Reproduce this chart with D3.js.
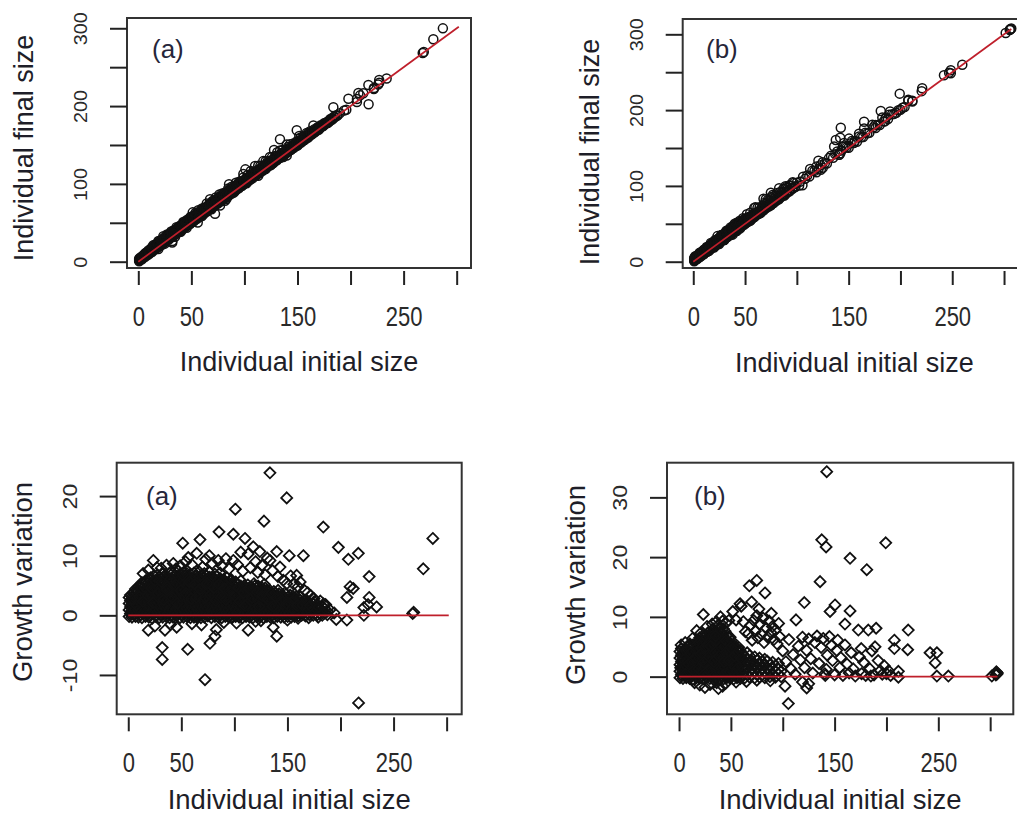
<!DOCTYPE html>
<html>
<head>
<meta charset="utf-8">
<script src="https://cdn.jsdelivr.net/npm/d3@7"></script>
<style>
  body { margin: 0; background: #fff; }
  svg { display: block; }
</style>
</head>
<body>
<svg id="fig" width="1017" height="816"></svg>
<script>
// ---------------------------------------------------------------------------
// Axis ticks and labels
// ---------------------------------------------------------------------------
const initialTicks = [0, 50, 100, 150, 200, 250, 300];
const initialTickLabels = [0, 50, 150, 250];
const finalTicks = [0, 50, 100, 150, 200, 250, 300];
const finalTickLabels = [0, 100, 200, 300];
const growthTicksA = [-10, 0, 10, 20];
const growthTicksB = [0, 10, 20, 30];
const panelTags = ["(a)", "(b)"];

// Range of initial sizes covered by the fitted reference line
const fitRangeA = [0, 302];
const fitRangeB = [0, 307];

// ---------------------------------------------------------------------------
// Site (a): dense core, listed as [initial size, [growth values]]
// ---------------------------------------------------------------------------
const coreA = [
  [0.8,[-0.2,0.9,2.0,3.0]],[2.1,[0.3,1.4,2.5,3.4]],[3.5,[-0.3,0.8,1.9,3.1]],[5.2,[0.2,1.3,2.6,3.8]],
  [6.8,[-0.2,1.0,2.2,3.5,4.4]],[8.4,[0.4,1.6,2.9,4.1]],[9.6,[-0.3,0.9,2.3,3.6,4.8]],
  [11.3,[0.1,1.2,2.4,3.7,4.9]],[12.9,[-0.4,0.7,1.9,3.1,4.4,5.5]],[14.6,[0.3,1.5,2.7,4.0,5.2]],
  [16.2,[-0.2,0.9,2.1,3.4,4.6,5.8]],[17.9,[0.4,1.6,2.9,4.2,5.4]],[19.4,[-0.3,1.1,2.3,3.6,4.8,6.1]],
  [21.0,[0.2,1.4,2.6,3.9,5.1,6.3]],[22.7,[-0.5,0.8,2.0,3.2,4.5,5.7]],[24.3,[0.3,1.5,2.8,4.0,5.3,6.6]],
  [26.0,[-0.2,1.0,2.2,3.5,4.7,5.9]],[27.6,[0.5,1.7,3.0,4.2,5.5,6.8]],[29.1,[-0.4,0.9,2.1,3.3,4.6,5.8]],
  [30.8,[0.2,1.3,2.5,3.8,5.0,6.2]],[32.4,[-0.3,0.9,2.0,3.2,4.4,5.7,6.9]],[34.1,[0.4,1.6,2.8,4.1,5.3,6.5]],
  [35.7,[-0.2,1.1,2.3,3.5,4.8,6.0]],[37.3,[0.3,1.5,2.7,3.9,5.1,6.4]],[38.9,[-0.4,0.8,2.1,3.3,4.6,5.8,7.0]],
  [40.6,[0.1,1.3,2.5,3.7,5.0,6.2]],[42.2,[-0.3,0.9,2.1,3.4,4.6,5.9,7.1]],[43.8,[0.4,1.7,2.9,4.1,5.4,6.6]],
  [45.5,[-0.1,1.1,2.3,3.6,4.8,6.0]],[47.1,[0.3,1.5,2.7,4.0,5.2,6.5,7.4]],[48.7,[-0.4,0.8,2.0,3.2,4.5,5.7,6.9]],
  [50.4,[0.2,1.4,2.6,3.9,5.1,6.3]],[52.0,[-0.3,1.0,2.2,3.4,4.7,5.9,7.2]],[53.7,[0.5,1.7,2.9,4.2,5.4,6.6]],
  [55.3,[-0.2,1.1,2.3,3.5,4.8,6.0,7.0]],[56.9,[0.3,1.5,2.8,4.0,5.2,6.4]],[58.6,[-0.4,0.9,2.1,3.3,4.6,5.8,6.9]],
  [60.2,[0.1,1.3,2.5,3.8,5.0,6.2]],[61.9,[-0.3,0.9,2.2,3.4,4.6,5.9,7.1]],[63.5,[0.4,1.6,2.8,4.1,5.3,6.5]],
  [65.1,[-0.2,1.0,2.3,3.5,4.7,6.0]],[66.8,[0.2,1.5,2.7,3.9,5.2,6.4,7.3]],[68.4,[-0.4,0.8,2.0,3.3,4.5,5.7]],
  [70.1,[0.3,1.4,2.6,3.8,5.1,6.3]],[71.7,[-0.3,1.0,2.2,3.4,4.7,5.9,7.0]],[73.3,[0.4,1.7,2.9,4.1,5.3,6.6]],
  [75.0,[-0.1,1.1,2.3,3.6,4.8,6.0]],[76.6,[0.2,1.5,2.7,3.9,5.2,6.4,7.2]],[78.3,[-0.4,0.9,2.1,3.3,4.5,5.8]],
  [79.9,[0.3,1.5,2.7,3.9,5.2,6.3]],[81.6,[-0.2,1.0,2.2,3.5,4.7,5.9,6.9]],[83.2,[0.4,1.6,2.8,4.0,5.3,6.5]],
  [84.8,[-0.3,0.9,2.1,3.4,4.6,5.8]],[86.5,[0.2,1.4,2.6,3.9,5.1,6.2,7.1]],[88.1,[-0.4,0.8,2.0,3.3,4.5,5.7]],
  [89.8,[0.3,1.5,2.7,3.9,5.1,6.0]],[91.4,[-0.2,1.0,2.2,3.4,4.6,5.6]],[93.0,[0.4,1.6,2.8,4.1,5.2,6.3]],
  [94.7,[-0.3,0.9,2.1,3.3,4.5,5.5]],[96.3,[0.2,1.4,2.6,3.8,5.0,5.9]],[97.9,[-0.4,0.8,2.0,3.2,4.4,5.4]],
  [99.6,[0.3,1.5,2.7,3.9,5.0]],[101.2,[-0.2,1.0,2.2,3.4,4.6,5.6]],[102.8,[0.4,1.6,2.8,4.0,5.1]],
  [104.5,[-0.3,0.9,2.1,3.3,4.5]],[106.1,[0.2,1.4,2.6,3.8,4.9,5.8]],[107.7,[-0.4,0.8,2.0,3.2,4.3]],
  [109.4,[0.3,1.5,2.7,3.9,5.0]],[111.0,[-0.2,1.0,2.2,3.4,4.5]],[112.6,[0.4,1.6,2.8,4.0,5.1]],
  [114.3,[-0.3,0.9,2.1,3.3,4.4]],[115.9,[0.2,1.4,2.6,3.8,4.8]],[117.5,[-0.4,0.8,2.0,3.2,4.3]],
  [119.2,[0.3,1.5,2.7,3.9,4.9]],[120.8,[-0.2,1.0,2.2,3.4,4.5]],[122.4,[0.4,1.6,2.8,3.9,4.9]],
  [124.1,[-0.3,0.9,2.1,3.3,4.4]],[125.7,[0.2,1.4,2.6,3.8,4.7]],[127.3,[-0.4,0.8,2.0,3.2,4.3]],
  [129.0,[0.3,1.5,2.7,3.8,4.6]],[130.6,[-0.2,1.0,2.2,3.3,4.2]],[132.2,[0.4,1.6,2.7,3.8]],
  [133.9,[-0.3,0.9,2.1,3.2,4.1]],[135.5,[0.2,1.4,2.5,3.6]],[137.1,[-0.4,0.8,2.0,3.1,4.0]],
  [138.8,[0.3,1.5,2.6,3.7]],[140.4,[-0.2,1.0,2.1,3.2]],[142.0,[0.4,1.5,2.6,3.6]],
  [143.7,[-0.3,0.9,2.0,3.0]],[145.3,[0.2,1.3,2.4,3.4]],[146.9,[-0.3,0.8,1.9,2.9]],
  [148.6,[0.3,1.4,2.5,3.5]],[150.2,[-0.2,0.9,2.0,3.0]],[151.8,[0.4,1.5,2.5]],
  [153.5,[-0.3,0.8,1.9,2.9]],[155.1,[0.2,1.3,2.3,3.2]],[156.7,[-0.2,0.9,1.9]],
  [158.4,[0.3,1.4,2.4,3.1]],[160.0,[-0.1,1.0,2.0]],[161.7,[0.4,1.5,2.6]],
  [163.4,[0.0,1.1,2.1]],[165.2,[0.3,1.4,2.4]],[166.9,[-0.1,0.9,1.9]],
  [168.7,[0.4,1.3,2.2]],[170.6,[0.1,1.1,2.0]],[172.5,[0.5,1.5]],
  [174.3,[0.0,1.0,1.9]],[176.4,[0.4,1.3]],[178.2,[0.1,0.9,1.7]],
  [180.5,[0.3,1.2]],[182.8,[0.0,0.8,1.5]],[185.1,[0.4,1.1]],[187.6,[0.1,0.7]]
];

// Site (a): individual points around and outside the core, [initial, growth]
const scatterA = [
  [14,7.0],[19,7.6],[23.6,9.2],[27,8.0],[31,7.9],[36,8.4],[42.4,8.7],[45,7.8],[49,8.3],[51.3,12.1],
  [54,9.0],[56.5,9.7],[60,8.5],[64.5,10.4],[67.6,12.7],[70,8.1],[73,9.4],[76.4,10.0],[79,8.7],[84.8,9.2],
  [85.5,14.0],[88,8.3],[92,9.5],[95,7.8],[99,9.2],[99,13.6],[103,8.5],[106,10.6],[108,7.4],[110,12.9],
  [113,10.3],[115,8.0],[117.8,11.5],[120,9.0],[122,7.2],[124,10.7],[126,8.4],[129,6.8],[131,9.6],[133.6,9.2],
  [136,7.5],[139.9,10.7],[141,6.5],[143,8.1],[146,5.9],[149.3,5.3],[151.7,10.0],[153,6.6],[156,5.2],[158.7,6.7],
  [160,4.8],[162,5.6],[165,10.0],[166,4.2],[169,3.8],[172,3.3],[175,2.8],[181,2.4],[186,1.8],[190,0.9],
  [194,0.4],[179,-0.3],[196,-0.7],[206,-0.8],[206,3.0],[207.4,9.4],[209,4.8],[212,4.5],[216.8,10.4],[222,1.3],
  [222,0.0],[227,6.5],[227,3.0],[234,1.4],[226,1.8],[268,0.3],[269,0.5],[278,7.8],[287,12.9],[133.5,23.9],
  [149.3,19.7],[100.9,17.8],[127.9,15.8],[183.8,14.8],[198,11.4],[217,-14.7],[72.3,-10.8],[32,-7.4],[32,-5.4],[56,-5.7],
  [77,-4.7],[81.7,-3.5],[139.9,-3.5],[113,-2.5],[136.6,-2.0],[18.9,-2.5],[34.6,-2.5],[45.6,-2.0],[102,-1.3],[69,-1.6],
  [83,-2.4],[25,-1.8],[40,-1.5],[60,-1.4],[90,-1.2],[120,-1.0],[150,-0.8],[160,-0.5],[170,-0.4],[125,-0.9],
  [4.4,2.6],[7.6,1.7],[10.4,3.1],[13.8,2.3],[15.3,4.8],[18.6,3.3],[21.8,4.6],[23.5,2.1],[25.1,5.8],[28.3,3.7],
  [31.6,5.6],[33.2,2.6],[36.5,4.3],[39.8,6.1],[41.3,3.0],[44.6,5.1],[46.3,2.0],[49.5,4.2],[51.2,6.8],[54.5,3.7],
  [57.7,5.6],[59.4,2.8],[62.7,5.2],[64.3,3.0],[67.6,4.4],[69.3,6.8],[72.5,3.0],[74.2,5.4],[77.4,3.4],[80.7,4.6],
  [82.4,2.5],[85.7,5.2],[87.3,3.0],[90.6,4.5],[92.2,2.6],[95.5,4.0],[97.1,6.0],[100.4,3.3],[103.7,4.6],[105.3,2.4],
  [108.6,3.8],[110.2,1.6],[113.5,4.5],[116.7,3.0],[118.4,5.3],[121.6,3.9],[123.3,1.5],[126.5,3.3],[128.2,5.2],[131.4,2.7],
  [134.7,3.6],[136.3,1.5],[139.6,3.0],[141.2,4.2],[144.5,2.5],[147.7,3.8],[149.4,1.9],[152.6,3.4],[154.3,1.1],[157.5,2.8],
  [159.2,1.6],[162.5,3.1],[164.3,1.7],[167.8,2.6],[171.5,1.6],[175.3,2.3],[179.4,1.4],[184.0,1.9]
];

// ---------------------------------------------------------------------------
// Site (b): dense core, listed as [initial size, [growth values]]
// ---------------------------------------------------------------------------
const coreB = [
  [0.9,[-0.2,0.9,2.0,3.1,4.2]],[2.3,[0.3,1.4,2.5,3.6,4.7]],[3.8,[-0.3,0.8,1.9,3.0,4.1]],
  [5.4,[0.2,1.3,2.4,3.5,4.6]],[7.0,[-0.2,0.9,2.0,3.2,4.3]],[8.6,[0.4,1.5,2.6,3.8,4.9]],
  [10.2,[-0.3,0.8,1.9,3.0,4.1,5.2]],[11.8,[0.2,1.4,2.5,3.6,4.7]],[13.4,[-0.4,0.7,1.8,3.0,4.1,5.3]],
  [15.0,[0.3,1.4,2.5,3.7,4.8]],[16.7,[-0.2,0.9,2.0,3.2,4.3,5.5]],[18.3,[0.4,1.5,2.6,3.8,4.9,6.0]],
  [19.9,[-0.3,0.8,1.9,3.1,4.2,5.4,6.5]],[21.6,[0.2,1.3,2.4,3.6,4.8,5.9]],[23.2,[-0.4,0.7,1.9,3.0,4.2,5.3,6.6]],
  [24.8,[0.3,1.4,2.6,3.7,4.9,6.1]],[26.5,[-0.2,0.9,2.1,3.2,4.4,5.6,6.9]],[28.1,[0.4,1.5,2.7,3.9,5.0,6.3,7.4]],
  [29.7,[-1.2,-0.3,0.8,2.0,3.1,4.3,5.5,6.7]],[31.4,[0.2,1.3,2.5,3.7,4.9,6.1,7.3]],
  [33.0,[-0.4,0.7,1.9,3.1,4.3,5.5,6.8,8.0]],[34.6,[0.3,1.5,2.7,3.9,5.1,6.3,7.5]],
  [36.3,[-1.0,-0.2,0.9,2.1,3.3,4.5,5.7,7.0]],[37.9,[0.4,1.6,2.8,4.0,5.2,6.4,7.7,8.6]],
  [39.5,[-0.3,0.8,2.0,3.2,4.4,5.6,6.9,8.2]],[41.2,[0.2,1.4,2.6,3.8,5.0,6.2,7.4]],
  [42.8,[-0.4,0.7,1.9,3.1,4.3,5.5,6.8,8.0]],[44.4,[0.3,1.5,2.7,3.9,5.1,6.3,7.6]],
  [46.1,[-0.2,0.9,2.1,3.3,4.5,5.7,6.9]],[47.7,[0.4,1.6,2.8,4.0,5.2,6.5]],
  [49.3,[-0.3,0.8,2.0,3.2,4.4,5.6,6.6]],[51.0,[0.2,1.4,2.6,3.8,5.0,6.0]],
  [52.6,[-0.4,0.7,1.9,3.1,4.3,5.3]],[54.2,[0.3,1.5,2.7,3.9,5.0]],
  [55.9,[-0.2,0.9,2.1,3.3,4.5]],[57.5,[0.4,1.6,2.8,4.0,4.9]],
  [59.1,[-0.3,0.8,2.0,3.2,4.3]],[61.2,[0.3,1.5,2.7,3.8]],[63.4,[-0.2,0.9,2.1,3.4]],
  [65.7,[0.4,1.6,2.9,4.0]],[68.0,[-0.1,1.0,2.3,3.5]],[70.4,[0.3,1.4,2.6]],
  [72.9,[-0.2,0.9,2.1,3.3]],[75.3,[0.4,1.5,2.7]],[77.6,[-0.1,1.0,2.2,3.1]],
  [80.2,[0.3,1.4,2.5]],[82.7,[-0.2,0.8,1.9,2.9]],[85.1,[0.4,1.5,2.6]],
  [87.6,[0.0,1.0,2.0]],[90.3,[0.3,1.3,2.4]],[93.0,[-0.1,0.9,1.8]],
  [95.8,[0.4,1.2,2.2]],[98.5,[0.0,0.9]]
];

// Site (b): individual points around and outside the core, [initial, growth]
const scatterB = [
  [67,7.2],[69,8.6],[70.5,6.1],[72,9.4],[73.5,7.6],[75,10.2],[76,6.5],[78,8.8],[79.5,7.1],[81,9.8],
  [82,5.7],[84,8.1],[85.5,6.6],[87,9.3],[88.5,7.4],[90,8.4],[91.5,6.2],[93,7.8],[94.5,5.5],[96,8.9],
  [97,6.7],[89,10.6],[77,11.3],[70,12.5],[62,9.2],[64,7.5],[60,11.8],[58.8,12.2],[51.8,10.9],[55,9.5],
  [48,9.4],[45,9.0],[42,9.3],[40,10.0],[36,9.2],[32,8.8],[27,8.4],[23.4,10.4],[17,7.7],[10.4,5.5],
  [13,6.4],[21,7.3],[2,5.3],[6,5.7],
  [142.4,34.3],[137.6,22.9],[141.8,21.7],[199.3,22.4],[164.9,19.8],[181,17.9],[136,15.9],[74.9,16.1],[67.8,15.2],[82.9,14.0],
  [120.8,12.4],[150.4,12.0],[145.6,10.9],[164.9,11.0],[112.8,9.5],[160,8.8],[172.9,7.8],[182.5,7.8],[190,8.1],[221,7.8],
  [207.6,6.1],[207.6,4.7],[220.5,4.5],[189,5.0],[175.7,4.7],[242,4.0],[248.6,4.0],[247,2.3],[248.6,0.1],[259.7,0.1],
  [306.4,0.4],[307,0.6],[305.5,0.3],[306,0.8],[301.6,0.1],[211.5,0.9],[211.5,-0.1],[105.4,-4.5],[102.2,-1.6],[123.1,-1.9],
  [125,-1.2],[119,-0.9],
  [100,4.3],[103,2.5],[106,6.2],[108,1.3],[110,3.7],[112,0.4],[115,5.1],[117,2.8],[119,6.6],[121,1.5],
  [123,4.4],[125,6.3],[127,3.0],[129,0.6],[131,5.7],[133,6.8],[135,2.2],[137,4.9],[139,6.4],[140.5,0.5],
  [141,0.2],[142,1.2],[143,3.6],[145,6.7],[147,5.2],[148,2.7],[150,0.3],[152,4.4],[153,6.1],[155,1.5],
  [156,3.2],[158,0.2],[160,5.3],[162,2.1],[164,0.6],[166,4.0],[168,1.3],[170,0.1],[174,3.3],[176,0.5],
  [178,2.4],[180,0.2],[184,1.3],[186,4.3],[188,0.3],[192,2.7],[194,1.0],[196,0.4],[198,1.8],[200,0.5],
  [202,1.0],[204,0.2],[185,0.1],
  [20,-1.4],[25,-1.8],[30,-1.3],[38,-2.0],[42,-1.6],[45,-1.1],[55,-0.9],[65,-0.8],[75,-0.6],[88,-0.7],[15,-1.0],
  [1.6,1.5],[4.6,2.9],[6.2,0.4],[9.4,2.1],[11.0,3.9],[14.2,1.0],[15.8,3.2],[19.1,1.3],[20.7,3.7],[23.9,2.4],
  [25.6,5.0],[28.9,1.1],[30.5,5.1],[33.8,2.5],[35.4,6.8],[38.7,3.4],[40.3,5.0],[43.6,2.5],[45.2,6.0],[48.5,2.7],
  [50.1,4.9],[53.4,3.5],[56.7,1.4],[60.0,3.0],[62.3,1.2],[66.8,2.3],[71.6,2.0],[76.4,1.6],[81.4,2.0],[86.3,1.3]
];

// Flatten core columns and loose points into parallel initial/growth lists
function collect(core, loose) {
  const initial = [], growth = [];
  core.forEach(([s, gs]) => gs.forEach(g => { initial.push(s); growth.push(g); }));
  loose.forEach(([s, g]) => { initial.push(s); growth.push(g); });
  return { initial, growth };
}
const siteA = collect(coreA, scatterA);
const siteB = collect(coreB, scatterB);

// ---------------------------------------------------------------------------
// Panel layout (pixel boxes of the plotting regions and axis limits)
// ---------------------------------------------------------------------------
const FONT = "'Liberation Sans', Arial, Helvetica, sans-serif";
const panels = [
  { kind: "final", site: siteA, fit: fitRangeA, tag: panelTags[0],
    box: { l: 127, r: 471, t: 18, b: 268 }, xLim: [-10.65, 313.5], yLim: [-8.1, 313.2],
    yTicks: finalTicks, yLabels: finalTickLabels, yTitle: "Individual final size",
    yTickFont: 18, titleFont: 27, yTitleX: 33, yTitleY: 148, xTitleY: 371, tagAt: [152, 58] },
  { kind: "final", site: siteB, fit: fitRangeB, tag: panelTags[1],
    box: { l: 682.7, r: 1026, t: 19, b: 268 }, xLim: [-10.2, 321.2], yLim: [-8.3, 320.2],
    yTicks: finalTicks, yLabels: finalTickLabels, yTitle: "Individual final size",
    yTickFont: 18, titleFont: 27, yTitleX: 599, yTitleY: 152, xTitleY: 372, tagAt: [706, 58] },
  { kind: "growth", site: siteA, fit: fitRangeA, tag: panelTags[0],
    box: { l: 116.7, r: 461.7, t: 462.7, b: 714.3 }, xLim: [-10.9, 314.2], yLim: [-16.6, 25.6],
    yTicks: growthTicksA, yLabels: growthTicksA, yTitle: "Growth variation",
    yTickFont: 21, titleFont: 27.5, yTitleX: 32, yTitleY: 582, xTitleY: 809, tagAt: [146, 505] },
  { kind: "growth", site: siteB, fit: fitRangeB, tag: panelTags[1],
    box: { l: 667, r: 1013.3, t: 462.7, b: 714.3 }, xLim: [-11.6, 322.3], yLim: [-6.3, 35.8],
    yTicks: growthTicksB, yLabels: growthTicksB, yTitle: "Growth variation",
    yTickFont: 21, titleFont: 27.5, yTitleX: 585, yTitleY: 585, xTitleY: 809, tagAt: [694, 505] }
];

const svg = d3.select("#fig");
const defs = svg.append("defs");

panels.forEach((p, i) => {
  const { box } = p;
  const x = d3.scaleLinear().domain(p.xLim).range([box.l, box.r]);
  const y = d3.scaleLinear().domain(p.yLim).range([box.b, box.t]);
  const g = svg.append("g");

  defs.append("clipPath").attr("id", "clip" + i)
    .append("rect").attr("x", box.l).attr("y", box.t)
    .attr("width", box.r - box.l).attr("height", box.b - box.t);

  const pts = p.site.initial.map((s, k) => ({
    s, v: p.kind === "final" ? s + p.site.growth[k] : p.site.growth[k]
  }));

  const plot = g.append("g").attr("clip-path", `url(#clip${i})`);
  if (p.kind === "final") {
    plot.selectAll("circle").data(pts).join("circle")
      .attr("cx", d => x(d.s)).attr("cy", d => y(d.v)).attr("r", 4.5)
      .attr("fill", "none").attr("stroke", "#111").attr("stroke-width", 1.5);
  } else {
    const h = 5.5;
    plot.selectAll("path.pt").data(pts).join("path").attr("class", "pt")
      .attr("d", d => {
        const cx = x(d.s), cy = y(d.v);
        return `M${cx},${cy - h}L${cx + h},${cy}L${cx},${cy + h}L${cx - h},${cy}Z`;
      })
      .attr("fill", "none").attr("stroke", "#111").attr("stroke-width", 1.8);
  }

  // fitted reference line (final = initial, or zero growth)
  const fitPts = p.fit.map(s => [s, p.kind === "final" ? s : 0]);
  plot.append("path")
    .attr("d", d3.line().x(d => x(d[0])).y(d => y(d[1]))(fitPts))
    .attr("fill", "none").attr("stroke", "#bf1f2b").attr("stroke-width", 1.7);

  // plot frame
  g.append("rect").attr("x", box.l).attr("y", box.t)
    .attr("width", box.r - box.l).attr("height", box.b - box.t)
    .attr("fill", "none").attr("stroke", "#333").attr("stroke-width", 2);

  // bottom axis
  const xa = g.append("g").attr("transform", `translate(0,${box.b + 3})`)
    .call(d3.axisBottom(x).tickValues(initialTicks).tickSize(14).tickSizeOuter(0)
      .tickFormat(d => initialTickLabels.includes(d) ? String(d) : ""));
  xa.select(".domain").remove();
  xa.selectAll(".tick line").attr("stroke", "#222").attr("stroke-width", 2);
  xa.selectAll(".tick text")
    .attr("y", 0).attr("dy", "0")
    .attr("transform", "translate(0,55) scale(1,1.25)")
    .attr("font-family", FONT).attr("font-size", 22).attr("fill", "#2a2a2a");

  // left axis
  const ya = g.append("g").attr("transform", `translate(${box.l},0)`)
    .call(d3.axisLeft(y).tickValues(p.yTicks).tickSize(17).tickSizeOuter(0)
      .tickFormat(d => p.yLabels.includes(d) ? String(d) : ""));
  ya.select(".domain").remove();
  ya.selectAll(".tick line").attr("stroke", "#222").attr("stroke-width", 2);
  ya.selectAll(".tick text")
    .attr("x", 0).attr("dy", "0").attr("text-anchor", "middle")
    .attr("transform", "translate(-40,0) rotate(-90) scale(1.1,1)")
    .attr("font-family", FONT).attr("font-size", p.yTickFont).attr("fill", "#2a2a2a");

  // axis titles
  g.append("text").text("Individual initial size")
    .attr("x", (box.l + Math.min(box.r, 1026)) / 2).attr("y", p.xTitleY)
    .attr("text-anchor", "middle").attr("font-family", FONT)
    .attr("font-size", p.titleFont).attr("fill", "#1e1e28");
  g.append("text").text(p.yTitle)
    .attr("transform", `translate(${p.yTitleX},${p.yTitleY}) rotate(-90)`)
    .attr("text-anchor", "middle").attr("font-family", FONT)
    .attr("font-size", p.titleFont).attr("fill", "#1e1e28");

  // panel tag
  g.append("text").text(p.tag)
    .attr("x", p.tagAt[0]).attr("y", p.tagAt[1])
    .attr("font-family", FONT).attr("font-size", 26).attr("fill", "#26263a");
});
</script>
</body>
</html>
